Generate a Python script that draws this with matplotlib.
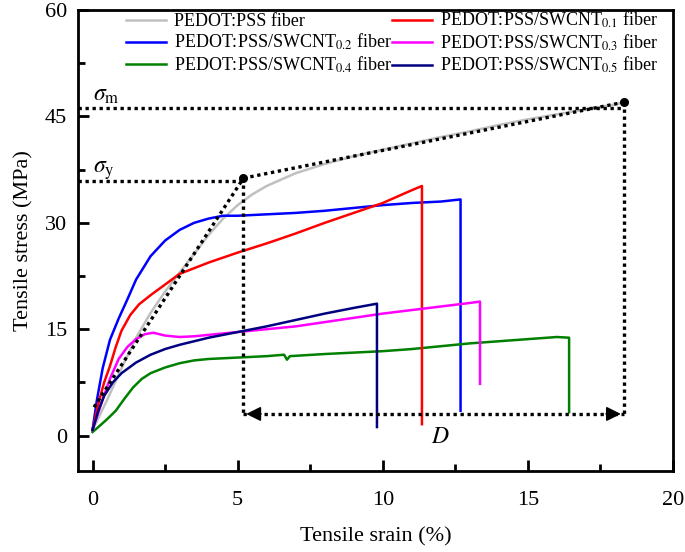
import matplotlib.pyplot as plt

plt.rcParams['font.family'] = ['Liberation Serif', 'DejaVu Serif']
plt.rcParams['mathtext.fontset'] = 'stix'

# strain (%) / stress (MPa)
pss_x = [0, 0.5, 1.0, 1.5, 2.0, 2.5, 3.0, 3.5, 4.0, 4.5, 5.0, 5.5, 6, 7, 8, 9, 10, 11, 12, 13, 14, 15, 16, 17, 18, 18.3]
pss_y = [0.8, 5, 9.5, 13.8, 17.3, 20.3, 23, 25.6, 28.3, 30.6, 32.5, 34, 35.2, 37, 38.3, 39.4, 40.3, 41.2, 42.1, 42.9, 43.8, 44.6, 45.3, 46, 46.7, 47]

c01_x = [0, 0.2, 0.4, 0.6, 0.8, 1.0, 1.3, 1.6, 2.0, 2.5, 3, 4, 5, 6, 7, 8, 9, 10, 10.5, 11, 11.35, 11.35]
c01_y = [0.8, 4.5, 7.5, 9.8, 12.5, 14.8, 17, 18.5, 19.8, 21.3, 22.8, 24.4, 25.8, 27.1, 28.5, 30, 31.4, 32.8, 33.7, 34.6, 35.2, 1.6]

c02_x = [0, 0.15, 0.35, 0.6, 0.9, 1.2, 1.5, 2, 2.5, 3, 3.5, 4, 4.5, 5, 5.5, 6, 7, 8, 9, 10, 11, 12, 12.68, 12.68]
c02_y = [0.8, 5, 9.5, 13.5, 16.5, 19.2, 22, 25.3, 27.5, 29, 30, 30.6, 31, 31, 31.1, 31.2, 31.4, 31.7, 32.1, 32.5, 32.8, 33, 33.3, 3.5]

c03_x = [0, 0.3, 0.6, 0.9, 1.2, 1.5, 1.8, 2.1, 2.5, 3, 3.5, 4, 5, 6, 7, 8, 9, 10, 11, 12, 13, 13.35, 13.35]
c03_y = [0.8, 4.5, 8, 10.8, 12.5, 13.6, 14.3, 14.5, 14.1, 13.9, 14, 14.2, 14.6, 15, 15.4, 16, 16.6, 17.2, 17.7, 18.2, 18.7, 18.9, 7.3]

c04_x = [0, 0.2, 0.5, 0.8, 1.1, 1.4, 1.7, 2, 2.5, 3, 3.5, 4, 5, 6, 6.6, 6.7, 6.8, 8, 9, 10, 11, 12, 13, 14, 15, 16, 16.42, 16.42]
c04_y = [0.5, 1.2, 2.3, 3.5, 5.2, 6.8, 8, 8.8, 9.6, 10.2, 10.6, 10.8, 11, 11.2, 11.4, 10.7, 11.2, 11.5, 11.7, 11.9, 12.2, 12.6, 13, 13.3, 13.6, 13.9, 13.8, 3.3]

c05_x = [0, 0.2, 0.4, 0.7, 1.0, 1.5, 2, 2.5, 3, 3.5, 4, 5, 6, 7, 8, 9, 9.8, 9.8]
c05_y = [0.8, 3.5, 5.6, 7.5, 8.8, 10.3, 11.4, 12.2, 12.8, 13.3, 13.8, 14.6, 15.4, 16.3, 17.2, 18, 18.6, 1.2]

# annotation points
yield_pt = (5.2, 36.3)
max_pt = (18.3, 47.0)
sigma_y_level = 35.9
sigma_m_level = 46.2
d_level = 3.05

fig = plt.figure(figsize=(6.85, 5.52), dpi=100)
ax = fig.add_axes([0.1139, 0.1467, 0.8686, 0.835])

ax.plot(pss_x, pss_y, color='#c0c0c0', lw=1.8, label='PEDOT:PSS fiber')
ax.plot(c02_x, c02_y, color='#0000ff', lw=1.8, label=r'PEDOT:PSS/SWCNT$_{0.2}$ fiber')
ax.plot(c04_x, c04_y, color='#008000', lw=1.8, label=r'PEDOT:PSS/SWCNT$_{0.4}$ fiber')
ax.plot(c01_x, c01_y, color='#ff0000', lw=1.8, label=r'PEDOT:PSS/SWCNT$_{0.1}$ fiber')
ax.plot(c03_x, c03_y, color='#ff00ff', lw=1.8, label=r'PEDOT:PSS/SWCNT$_{0.3}$ fiber')
ax.plot(c05_x, c05_y, color='#000080', lw=1.8, label=r'PEDOT:PSS/SWCNT$_{0.5}$ fiber')

# dotted guide lines
dot = dict(color='black', lw=2.4, ls=(0, (1, 1.1)))
ax.plot([-0.5, yield_pt[0]], [sigma_y_level, sigma_y_level], **dot)
ax.plot([-0.5, max_pt[0]], [sigma_m_level, sigma_m_level], **dot)
ax.plot([0.05, yield_pt[0]], [4.0, yield_pt[1]], **dot)
ax.plot([yield_pt[0], max_pt[0]], [yield_pt[1], max_pt[1]], **dot)
ax.plot([yield_pt[0], yield_pt[0]], [yield_pt[1], d_level], **dot)
ax.plot([max_pt[0], max_pt[0]], [max_pt[1], d_level], **dot)
ax.plot([yield_pt[0], max_pt[0]], [d_level, d_level], **dot)
ax.plot([yield_pt[0], max_pt[0]], [yield_pt[1], max_pt[1]], 'o', color='black', ms=5.5)
ax.annotate('', xy=(yield_pt[0], d_level), xytext=(yield_pt[0] + 0.7, d_level),
            arrowprops=dict(arrowstyle='-|>', color='black', lw=1.2, mutation_scale=22))
ax.annotate('', xy=(max_pt[0], d_level), xytext=(max_pt[0] - 0.7, d_level),
            arrowprops=dict(arrowstyle='-|>', color='black', lw=1.2, mutation_scale=22))

ax.text(0.0, 47.2, r'$\sigma_{\rm m}$', fontsize=17)
ax.text(0.0, 37.0, r'$\sigma_{\rm y}$', fontsize=17)
ax.text(12.0, -0.3, r'$D$', fontsize=17, ha='center', va='center')

ax.set_xlim(-0.5, 20)
ax.set_ylim(-5, 60)
ax.set_xticks([0, 5, 10, 15, 20])
ax.set_xticks([2.5, 7.5, 12.5, 17.5], minor=True)
ax.set_yticks([0, 15, 30, 45, 60])
ax.set_yticks([7.5, 22.5, 37.5, 52.5], minor=True)
ax.tick_params(which='both', direction='in', width=2, labelsize=16, pad=8)
ax.tick_params(axis='x', which='both', pad=14.5)
ax.tick_params(which='major', length=8)
ax.tick_params(which='minor', length=5)
for s in ax.spines.values():
    s.set_linewidth(2)

ax.set_xlabel('Tensile srain (%)', fontsize=16, labelpad=12)
ax.set_ylabel('Tensile stress (MPa)', fontsize=16, labelpad=8)

ax.legend(ncol=2, loc='upper right', bbox_to_anchor=(0.99, 1.02), frameon=False,
          fontsize=13, handlelength=2.2, columnspacing=0.0, handletextpad=0.45,
          labelspacing=0.12, borderaxespad=0.1)

fig.savefig('out.png', dpi=100)
